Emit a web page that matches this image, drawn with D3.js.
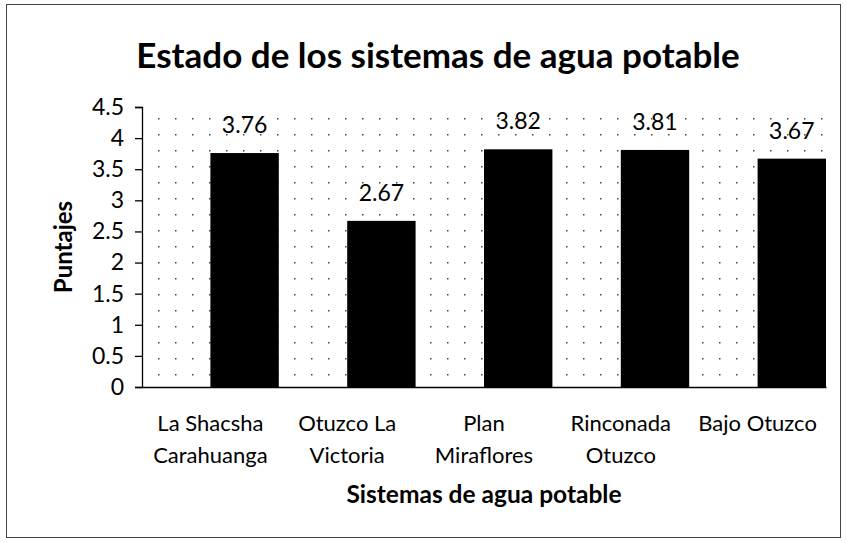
<!DOCTYPE html>
<html><head><meta charset="utf-8">
<script src="https://cdn.jsdelivr.net/npm/d3@7"></script>
<style>
html,body{margin:0;padding:0;background:#fff;}
svg{display:block;font-family:Lato,"Open Sans",sans-serif;}
</style></head>
<body>
<svg id="chart" width="846" height="542"></svg>
<script>
const chartTitle = "Estado de los sistemas de agua potable";
const yTitle = "Puntajes";
const xTitle = "Sistemas de agua potable";
const categories = ["La Shacsha|Carahuanga", "Otuzco La|Victoria", "Plan|Miraflores", "Rinconada|Otuzco", "Bajo Otuzco"];
const series = ["(vacío)", "Puntaje"];
const emptyValues = [0, 0, 0, 0, 0];
const scoreValues = [3.76, 2.67, 3.82, 3.81, 3.67];
const yTicks = [0, 0.5, 1, 1.5, 2, 2.5, 3, 3.5, 4, 4.5];

const svg = d3.select("#chart");
const W = 846, H = 542;
const m = {left: 142, right: 20, top: 107, bottom: 155};

svg.append("rect").attr("x", 6.5).attr("y", 4.5).attr("width", W - 12).attr("height", H - 9)
  .attr("fill", "#fff").attr("stroke", "#444").attr("stroke-width", 1);

const defs = svg.append("defs");
const pat = defs.append("pattern").attr("id", "dots").attr("patternUnits", "userSpaceOnUse")
  .attr("width", 17).attr("height", 16);
pat.append("rect").attr("x", 5).attr("y", 6).attr("width", 1.5).attr("height", 1.5).attr("fill", "#444");

const x0 = d3.scaleBand().domain(categories).range([m.left, W - m.right]).paddingInner(0).paddingOuter(0);
const x1 = d3.scaleBand().domain(series).range([0, x0.bandwidth()]).padding(0);
const y = d3.scaleLinear().domain([0, 4.5]).range([H - m.bottom, m.top]);

// plot area background
svg.append("rect").attr("x", m.left).attr("y", m.top).attr("width", W - m.right - m.left)
  .attr("height", y(0) - m.top).attr("fill", "url(#dots)");

// title
svg.append("text").attr("x", 438).attr("y", 68).attr("text-anchor", "middle")
  .attr("font-size", 35).attr("font-weight", 700).attr("fill", "#000").text(chartTitle);

// bars
const rows = categories.map((c, i) => ({cat: c, vals: [emptyValues[i], scoreValues[i]]}));
const g = svg.append("g");
rows.forEach(r => {
  r.vals.forEach((v, j) => {
    if (j === 0) return;
    g.append("rect").attr("x", x0(r.cat) + x1(series[j])).attr("y", y(v))
      .attr("width", x1.bandwidth()).attr("height", y(0) - y(v)).attr("fill", "#000");
    g.append("text").attr("x", x0(r.cat) + x1(series[j]) + x1.bandwidth() / 2).attr("y", y(v) - 20)
      .attr("text-anchor", "middle").attr("font-size", 23).attr("fill", "#000").text(v.toFixed(2));
  });
});

// y axis
const yAxis = d3.axisLeft(y).tickValues(yTicks).tickSize(7).tickPadding(11).tickFormat(d => String(d));
const ya = svg.append("g").attr("transform", `translate(${m.left},0)`).call(yAxis);
ya.selectAll("text").attr("font-size", 23).attr("fill", "#000").attr("font-family", "Lato,sans-serif");
ya.selectAll("line,path").attr("stroke", "#000").attr("stroke-width", 1.3);

// x axis
const xAxis = d3.axisBottom(x0).tickSize(0).tickFormat("");
const xa = svg.append("g").attr("transform", `translate(0,${y(0)})`).call(xAxis);
xa.select("path").attr("stroke", "#000").attr("stroke-width", 1.5);
categories.forEach(c => {
  const lines = c.split("|");
  const t = svg.append("text").attr("x", x0(c) + x0.bandwidth() / 2).attr("y", 431)
    .attr("text-anchor", "middle").attr("font-size", 22).attr("fill", "#000");
  lines.forEach((l, i) => t.append("tspan").attr("x", x0(c) + x0.bandwidth() / 2).attr("dy", i === 0 ? 0 : 32).text(l));
});

// axis titles
svg.append("text").attr("x", (m.left + W - m.right) / 2).attr("y", 503).attr("text-anchor", "middle")
  .attr("font-size", 24.5).attr("font-weight", 700).attr("fill", "#000").text(xTitle);
svg.append("text").attr("transform", "translate(72,247) rotate(-90)").attr("text-anchor", "middle")
  .attr("font-size", 24).attr("font-weight", 700).attr("fill", "#000").text(yTitle);
</script>
</body></html>
